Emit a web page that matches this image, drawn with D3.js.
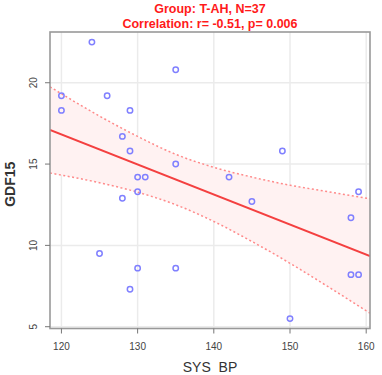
<!DOCTYPE html>
<html>
<head>
<meta charset="utf-8">
<script src="https://cdn.jsdelivr.net/npm/d3@7"></script>
<style>
  html, body { margin: 0; padding: 0; background: #fff; }
  svg { display: block; font-family: "Liberation Sans", Arial, sans-serif; }
</style>
</head>
<body>
<div id="chart"></div>
<script>
// Observed points (SYS BP vs GDF15)
const sysBP = [124, 120, 120, 126, 129, 128, 129, 128, 135, 135, 130, 131, 142,
  130, 149, 159, 145, 158, 158, 159, 150, 125, 130, 135, 129]
const gdf15 = [22.5, 19.2, 18.3, 19.2, 18.3, 16.7, 15.8, 12.9, 20.8, 15.0, 14.2, 14.2, 14.2,
  13.3, 15.8, 13.3, 12.7, 11.7, 8.2, 8.2, 5.5, 9.5, 8.6, 8.6, 7.3]

// Fitted line and confidence band
const fitX = [118.5, 160.5]
const fitY = [17.1, 9.35]
const bandX = [118.5, 125, 130, 135, 140, 145, 150, 155, 160.5]
const bandUpper = [19.75, 17.95, 16.7, 15.6, 14.8, 14.2, 13.7, 13.3, 12.87]
const bandLower = [14.45, 13.85, 13.27, 12.5, 11.47, 10.24, 8.9, 7.46, 5.83]

const xTicks = [120, 130, 140, 150, 160]
const yTicks = [5, 10, 15, 20]

const titleLines = ["Group: T-AH, N=37", "Correlation: r= -0.51, p= 0.006"]

const width = 382
const height = 375
const plot = { left: 50, right: 370, top: 32, bottom: 328.5 }

const x = d3.scaleLinear().domain([118.5, 160.5]).range([plot.left, plot.right])
const y = d3.scaleLinear().domain([4.89, 23.12]).range([plot.bottom, plot.top])

const svg = d3.select("#chart").append("svg")
  .attr("width", width)
  .attr("height", height)

svg.append("defs").append("clipPath").attr("id", "clip")
  .append("rect")
  .attr("x", plot.left).attr("y", plot.top)
  .attr("width", plot.right - plot.left)
  .attr("height", plot.bottom - plot.top)

// grid
const grid = svg.append("g")
grid.selectAll(".gx").data(xTicks).join("line")
  .attr("x1", d => x(d)).attr("x2", d => x(d))
  .attr("y1", plot.top).attr("y2", plot.bottom)
  .attr("stroke", "#ebebeb").attr("stroke-width", 1.5)
grid.selectAll(".gy").data(yTicks).join("line")
  .attr("y1", d => y(d)).attr("y2", d => y(d))
  .attr("x1", plot.left).attr("x2", plot.right)
  .attr("stroke", "#ebebeb").attr("stroke-width", 1.5)

const g = svg.append("g").attr("clip-path", "url(#clip)")

const band = bandX.map((v, i) => ({ x: v, lo: bandLower[i], hi: bandUpper[i] }))

g.append("path")
  .datum(band)
  .attr("d", d3.area().curve(d3.curveMonotoneX)
    .x(d => x(d.x)).y0(d => y(d.lo)).y1(d => y(d.hi)))
  .attr("fill", "#fff2f2")

const dashLine = key => d3.line().curve(d3.curveMonotoneX)
  .x(d => x(d.x)).y(d => y(d[key]))

for (const key of ["hi", "lo"]) {
  g.append("path")
    .datum(band)
    .attr("d", dashLine(key))
    .attr("fill", "none")
    .attr("stroke", "#ff8a8a")
    .attr("stroke-width", 1.5)
    .attr("stroke-dasharray", "2,2.5")
}

g.append("line")
  .attr("x1", x(fitX[0])).attr("y1", y(fitY[0]))
  .attr("x2", x(fitX[1])).attr("y2", y(fitY[1]))
  .attr("stroke", "#f44040")
  .attr("stroke-width", 2)

g.selectAll("circle")
  .data(sysBP.map((v, i) => [v, gdf15[i]]))
  .join("circle")
  .attr("cx", d => x(d[0]))
  .attr("cy", d => y(d[1]))
  .attr("r", 2.7)
  .attr("fill", "none")
  .attr("stroke", "#8080ff")
  .attr("stroke-width", 1.5)

// frame
svg.append("rect")
  .attr("x", plot.left).attr("y", plot.top)
  .attr("width", plot.right - plot.left)
  .attr("height", plot.bottom - plot.top)
  .attr("fill", "none")
  .attr("stroke", "#999")
  .attr("stroke-width", 1.6)

// axes
const xAxis = svg.append("g")
xAxis.selectAll("line").data(xTicks).join("line")
  .attr("x1", d => x(d)).attr("x2", d => x(d))
  .attr("y1", plot.bottom).attr("y2", plot.bottom + 5)
  .attr("stroke", "#777").attr("stroke-width", 1)
xAxis.selectAll("text").data(xTicks).join("text")
  .attr("x", d => x(d)).attr("y", 350)
  .attr("text-anchor", "middle")
  .attr("font-size", 10)
  .attr("fill", "#444")
  .text(d => d)

const yAxis = svg.append("g")
yAxis.selectAll("line").data(yTicks).join("line")
  .attr("y1", d => y(d)).attr("y2", d => y(d))
  .attr("x1", plot.left - 5).attr("x2", plot.left)
  .attr("stroke", "#777").attr("stroke-width", 1)
yAxis.selectAll("text").data(yTicks).join("text")
  .attr("transform", d => `translate(37,${y(d)}) rotate(-90)`)
  .attr("text-anchor", "middle")
  .attr("font-size", 10)
  .attr("fill", "#444")
  .text(d => d)

svg.append("text")
  .attr("x", (plot.left + plot.right) / 2).attr("y", 372)
  .attr("text-anchor", "middle")
  .attr("font-size", 14)
  .attr("fill", "#333")
  .attr("xml:space", "preserve")
  .style("white-space", "pre")
  .text("SYS  BP")

svg.append("text")
  .attr("transform", `translate(15,${(plot.top + plot.bottom) / 2 + 4}) rotate(-90)`)
  .attr("text-anchor", "middle")
  .attr("font-size", 14)
  .attr("font-weight", "bold")
  .attr("fill", "#333")
  .text("GDF15")

svg.selectAll(".title").data(titleLines).join("text")
  .attr("x", (plot.left + plot.right) / 2)
  .attr("y", (d, i) => 12.5 + i * 15)
  .attr("text-anchor", "middle")
  .attr("font-size", 12.5)
  .attr("font-weight", "bold")
  .attr("fill", "#ff1a1a")
  .text(d => d)
</script>
</body>
</html>
